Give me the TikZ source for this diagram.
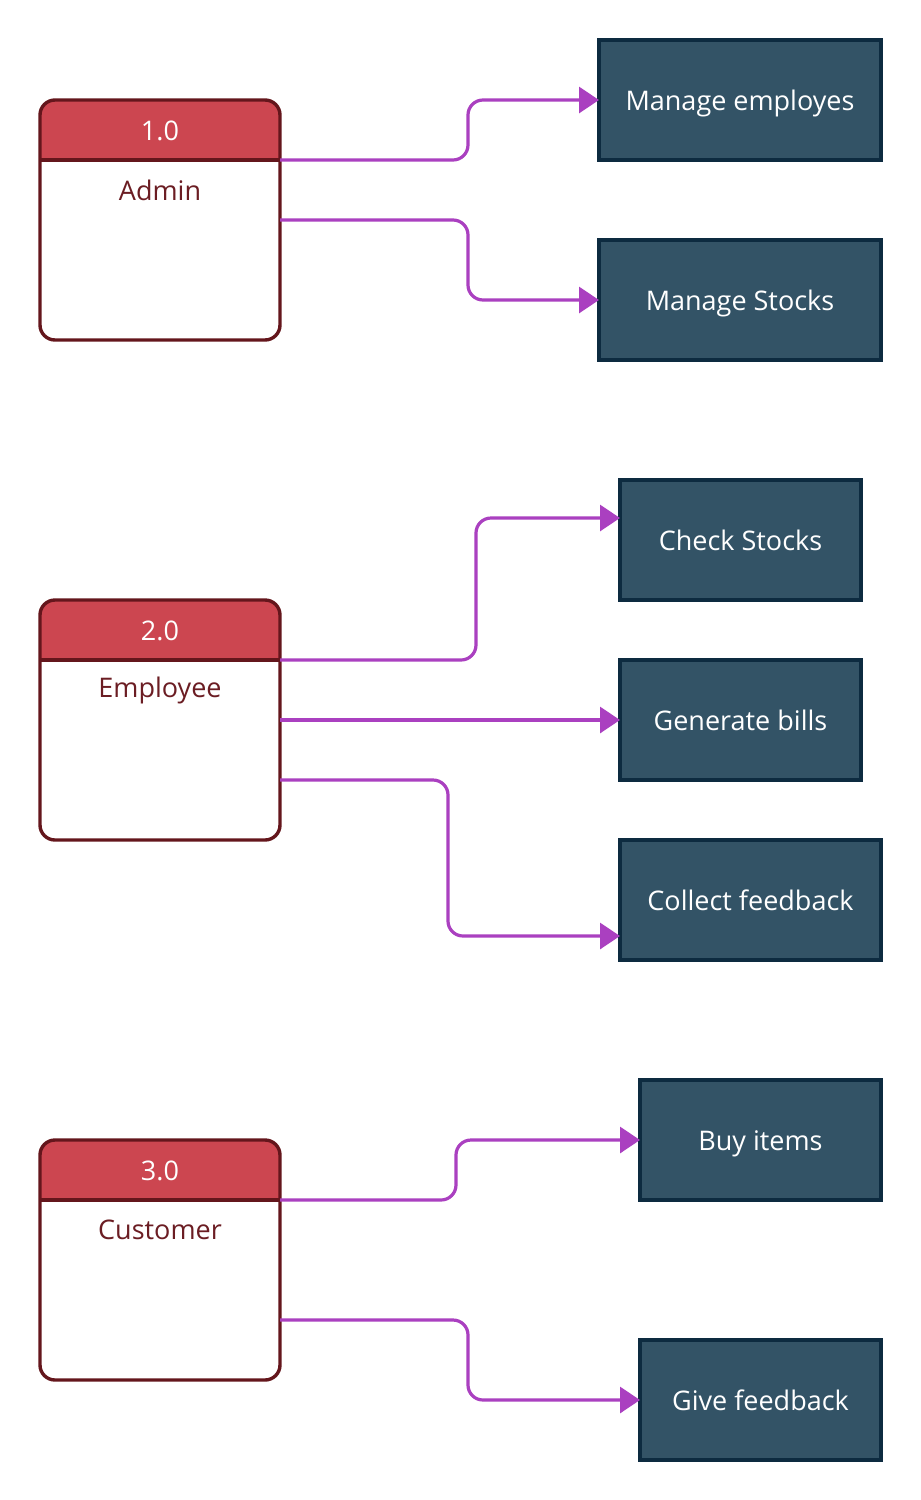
\documentclass[tikz,border=0pt]{standalone}
\usepackage{fontspec}
\setmainfont{Open Sans}
\usetikzlibrary{arrows.meta,calc}
\definecolor{hdrred}{HTML}{CC4650}
\definecolor{boxborder}{HTML}{64161C}
\definecolor{nametext}{HTML}{6B1D23}
\definecolor{rectfill}{HTML}{335366}
\definecolor{rectborder}{HTML}{0D2B40}
\definecolor{flowcol}{HTML}{AA40C0}
\tikzset{
  procbox/.style={rectangle, minimum width=240pt, minimum height=240pt, inner sep=0pt, outer sep=0pt},
  procborder/.style={draw=boxborder, line width=3.4pt, rounded corners=15pt},
  numtxt/.style={text=white, font=\fontsize{27}{32}\selectfont, inner sep=0pt},
  nametxt/.style={text=nametext, font=\fontsize{27}{32}\selectfont, inner sep=0pt},
  taskbox/.style={rectangle, fill=rectfill, draw=rectborder, line width=3.4pt, minimum height=120pt, inner sep=0pt, outer sep=0pt, text=white, font=\fontsize{27}{32}\selectfont, text height=20pt, text depth=0pt},
  flow/.style={draw=flowcol, line width=3.2pt, rounded corners=15pt, -{Triangle[length=20pt,width=26pt]}},
}
\newcommand{\procnode}[4]{%
  \node[procbox] (#1) at (#2) {};
  \begin{scope}
    \clip[rounded corners=15pt] (#1.south west) rectangle (#1.north east);
    \fill[hdrred] (#1.north west) rectangle ([yshift=-60pt]#1.north east);
  \end{scope}
  \draw[procborder] (#1.south west) rectangle (#1.north east);
  \draw[draw=boxborder, line width=3.4pt] ([yshift=-60pt]#1.north west) -- ([yshift=-60pt]#1.north east);
  \node[numtxt] (#1num) at ([yshift=-31pt]#1.north) {#3};
  \node[nametxt] (#1name) at ([yshift=-90pt]#1.north) {#4};
}
\begin{document}
\begin{tikzpicture}[x=1pt,y=-1pt]
\useasboundingbox[fill=white] (0,0) rectangle (921,1500);

\procnode{admin}{160,220}{1.0}{Admin}
\procnode{employee}{160,720}{2.0}{Employee}
\procnode{customer}{160,1260}{3.0}{Customer}

\node[taskbox, minimum width=282pt] (me) at (740,100) {Manage employes};
\node[taskbox, minimum width=282pt] (ms) at (740,300) {Manage Stocks};
\node[taskbox, minimum width=241pt] (cs) at (740.5,540) {Check Stocks};
\node[taskbox, minimum width=241pt] (gb) at (740.5,720) {Generate bills};
\node[taskbox, minimum width=261pt] (cf) at (750.5,900) {Collect feedback};
\node[taskbox, minimum width=241pt] (bi) at (760.5,1140) {Buy items};
\node[taskbox, minimum width=241pt] (gf) at (760.5,1400) {Give feedback};

\draw[flow] ([yshift=-60pt]admin.north east) -- ++(188,0) |- (me.west);
\draw[flow] ([yshift=-120pt]admin.north east) -- ++(188,0) |- (ms.west);
\draw[flow] ([yshift=-60pt]employee.north east) -- ++(196,0) |- ([yshift=22pt]cs.west);
\draw[flow] ([yshift=-120pt]employee.north east) -- (gb.west);
\draw[flow] ([yshift=-180pt]employee.north east) -- ++(168,0) |- ([yshift=-36pt]cf.west);
\draw[flow] ([yshift=-60pt]customer.north east) -- ++(176,0) |- (bi.west);
\draw[flow] ([yshift=-180pt]customer.north east) -- ++(188,0) |- (gf.west);
\end{tikzpicture}
\end{document}
